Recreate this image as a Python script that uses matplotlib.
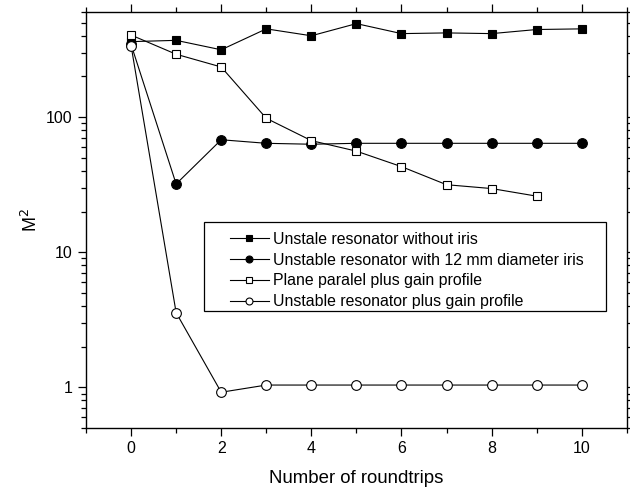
import numpy as np
import matplotlib.pyplot as plt
from matplotlib.patches import Rectangle
from matplotlib.ticker import LogLocator, NullFormatter, FixedLocator, FixedFormatter

plt.rcParams['font.family'] = ['Liberation Sans', 'DejaVu Sans']

roundtrips = [0, 1, 2, 3, 4, 5, 6, 7, 8, 9, 10]
no_iris = [362, 370, 315, 450, 400, 492, 415, 420, 415, 445, 450]
iris_12mm = [345, 32, 68, 64, 63, 64, 64, 64, 64, 64, 64]
plane_gain = [405, 292, 235, 98, 67, 56, 43, 31.6, 29.6, 26]
unstable_gain = [338, 3.57, 0.92, 1.04, 1.04, 1.04, 1.04, 1.04, 1.04, 1.04, 1.04]

labels = ['Unstale resonator without iris',
          'Unstable resonator with 12 mm diameter iris',
          'Plane paralel plus gain profile',
          'Unstable resonator plus gain profile']

fig = plt.figure(figsize=(6.3, 4.87), dpi=100)
ax = fig.add_axes([0.1365, 0.1211, 0.8585, 0.8543])

kw = dict(color='black', lw=0.8, markeredgewidth=0.8, markeredgecolor='black')
ax.plot(roundtrips, no_iris, marker='s', ms=6, mfc='black', label=labels[0], **kw)
ax.plot(roundtrips, iris_12mm, marker='o', ms=7, mfc='black', label=labels[1], **kw)
ax.plot(roundtrips[:len(plane_gain)], plane_gain, marker='s', ms=6, mfc='white', label=labels[2], **kw)
ax.plot(roundtrips, unstable_gain, marker='o', ms=7, mfc='white', label=labels[3], **kw)

ax.set_yscale('log')
ax.set_xlim(-1, 11)
ax.set_ylim(0.5, 600)

ax.xaxis.set_major_locator(FixedLocator([0, 2, 4, 6, 8, 10]))
ax.xaxis.set_minor_locator(FixedLocator([-1, 1, 3, 5, 7, 9, 11]))
ax.yaxis.set_major_locator(FixedLocator([1, 10, 100]))
ax.yaxis.set_major_formatter(FixedFormatter(['1', '10', '100']))
ax.yaxis.set_minor_locator(LogLocator(base=10, subs=np.arange(2, 10)))
ax.yaxis.set_minor_formatter(NullFormatter())

ax.tick_params(which='both', direction='out', top=True, right=True, labelsize=11.5)
ax.tick_params(which='major', length=6, width=0.9)
ax.tick_params(which='minor', length=3.5, width=0.9)
for s in ax.spines.values():
    s.set_linewidth(1.0)

ax.set_xlabel('Number of roundtrips', fontsize=13.4, labelpad=10)
ax.set_ylabel('M$^2$', fontsize=13, labelpad=4)

# legend frame drawn separately so the inner padding can match the original
ax.add_patch(Rectangle((0.218, 0.281), 0.743, 0.214, transform=ax.transAxes,
                       fill=False, edgecolor='black', lw=0.9, zorder=4))
leg = ax.legend(loc='upper left', bbox_to_anchor=(0.266, 0.472),
                fontsize=11.4, frameon=False, handlelength=2.45,
                handletextpad=0.3, labelspacing=0.37, borderaxespad=0,
                borderpad=0)
for h in leg.legend_handles:
    h.set_markersize(5)

fig.savefig('out.png', dpi=100)
